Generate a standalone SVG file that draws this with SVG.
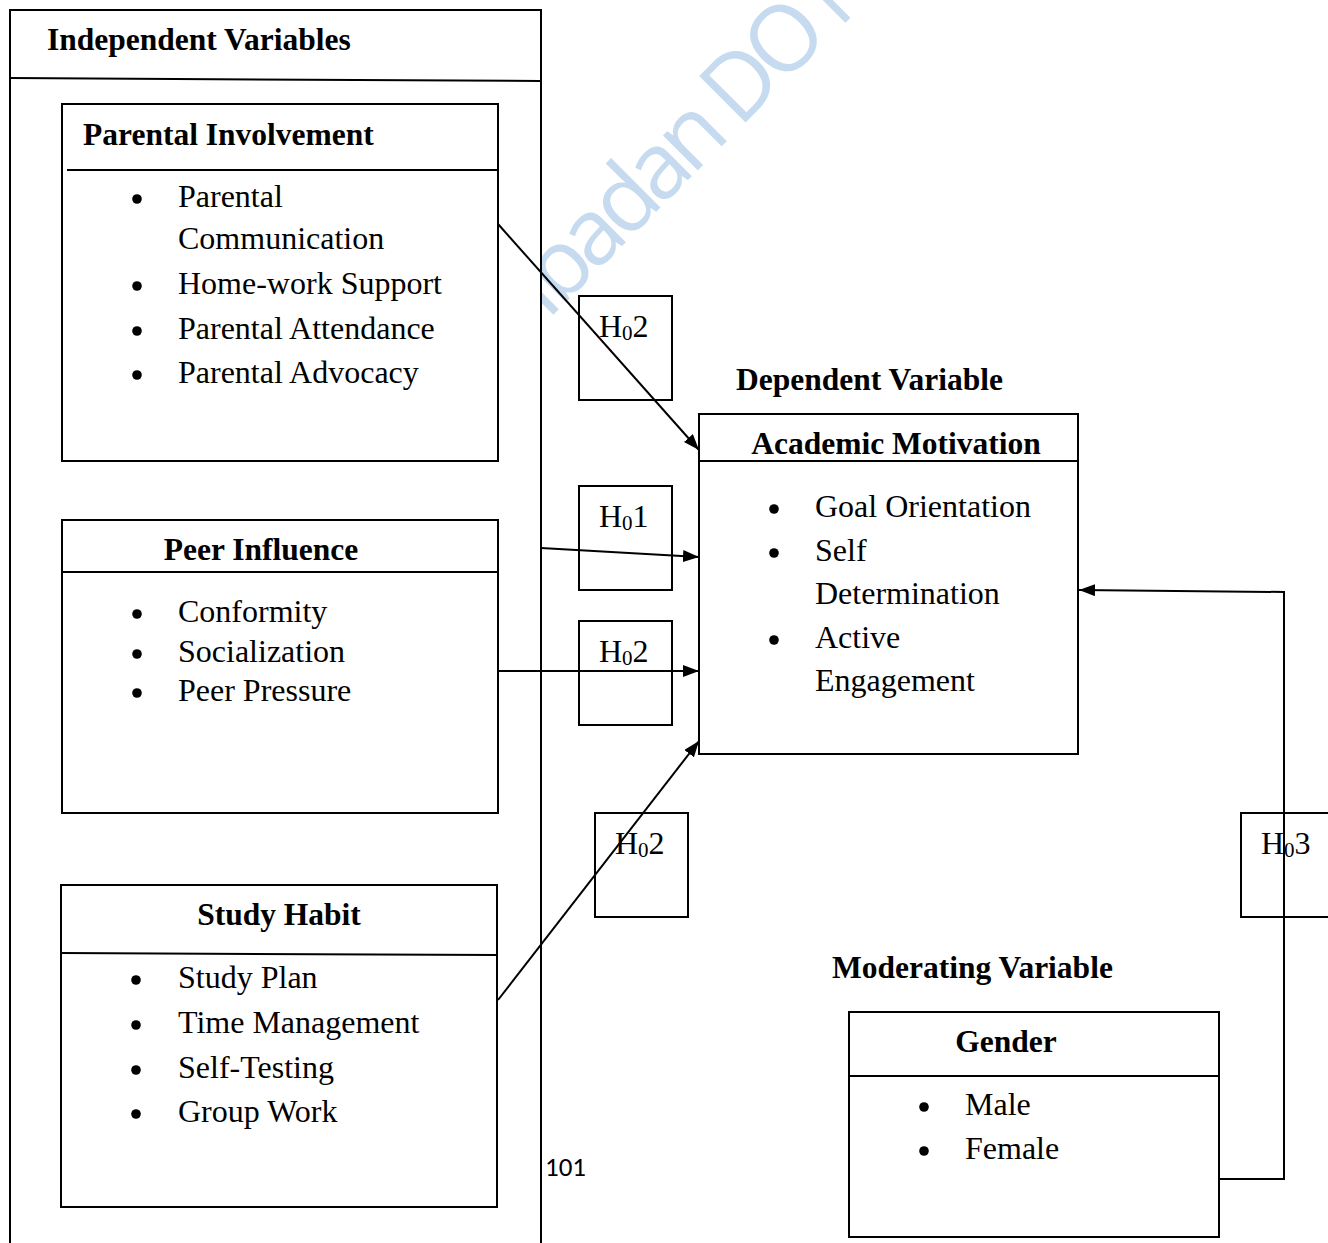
<svg xmlns="http://www.w3.org/2000/svg" width="1328" height="1243" viewBox="0 0 1328 1243">
<defs>
<style>
.box{fill:#fff;stroke:#000;stroke-width:2}
.hbox{fill:none;stroke:#000;stroke-width:2}
.ln{fill:none;stroke:#000;stroke-width:2}
.t{font-family:"Liberation Serif","Times New Roman",serif;font-size:32px;fill:#000}
.b{font-family:"Liberation Serif","Times New Roman",serif;font-size:31.5px;font-weight:bold;fill:#000}
.c{text-anchor:middle}
.sub{font-size:21px}
.dot{fill:#000}
.wm{font-family:"Open Sans","Liberation Sans",sans-serif;font-size:92px;letter-spacing:-7px;fill:#c6dbef}
</style>
<marker id="ah" markerWidth="16" markerHeight="12" refX="16" refY="6" orient="auto" markerUnits="userSpaceOnUse">
<path d="M0,0 L16,6 L0,12 Z" fill="#000"/>
</marker>
</defs>
<rect width="1328" height="1243" fill="#fff"/>
<text class="wm" transform="translate(547,321) rotate(-45)">Ibadan DO N</text>

<g id="independent-variables">
<path class="box" d="M10,1250 L10,10 L541,10 L541,1250"/>
<path class="ln" d="M10,78 L541,81"/>
<text class="b" x="47" y="50">Independent Variables</text>
</g>

<g id="parental-involvement">
<rect class="box" x="62" y="104" width="436" height="357"/>
<line class="ln" x1="67" y1="170" x2="498" y2="170"/>
<text class="b" x="83" y="145">Parental Involvement</text>
<circle class="dot" cx="137" cy="199" r="4.8"/><circle class="dot" cx="137" cy="286" r="4.8"/>
<circle class="dot" cx="137" cy="331" r="4.8"/><circle class="dot" cx="137" cy="375" r="4.8"/>
<g class="t">
<text x="178" y="207">Parental</text>
<text x="178" y="249">Communication</text>
<text x="178" y="294">Home-work Support</text>
<text x="178" y="339">Parental Attendance</text>
<text x="178" y="383">Parental Advocacy</text>
</g>
</g>

<g id="peer-influence">
<rect class="box" x="62" y="520" width="436" height="293"/>
<line class="ln" x1="62" y1="572" x2="498" y2="572"/>
<text class="b c" x="261" y="560">Peer Influence</text>
<circle class="dot" cx="137" cy="614" r="4.8"/><circle class="dot" cx="137" cy="654" r="4.8"/>
<circle class="dot" cx="137" cy="693" r="4.8"/>
<g class="t">
<text x="178" y="622">Conformity</text>
<text x="178" y="662">Socialization</text>
<text x="178" y="701">Peer Pressure</text>
</g>
</g>

<g id="study-habit">
<rect class="box" x="61" y="885" width="436" height="322"/>
<line class="ln" x1="61" y1="953" x2="497" y2="955"/>
<text class="b c" x="279" y="925">Study Habit</text>
<circle class="dot" cx="136" cy="980" r="4.8"/><circle class="dot" cx="136" cy="1025" r="4.8"/>
<circle class="dot" cx="136" cy="1070" r="4.8"/><circle class="dot" cx="136" cy="1114" r="4.8"/>
<g class="t">
<text x="178" y="988">Study Plan</text>
<text x="178" y="1033">Time Management</text>
<text x="178" y="1078">Self-Testing</text>
<text x="178" y="1122">Group Work</text>
</g>
</g>

<text x="545" y="1176" font-family="Carlito,'Liberation Sans',sans-serif" font-size="27">101</text>

<g id="h02-top"><rect class="hbox" x="579" y="296" width="93" height="104"/>
<text class="t" x="599" y="337">H<tspan class="sub" dy="3">0</tspan><tspan dy="-3">2</tspan></text></g>
<g id="h01"><rect class="hbox" x="579" y="486" width="93" height="104"/>
<text class="t" x="599" y="527">H<tspan class="sub" dy="3">0</tspan><tspan dy="-3">1</tspan></text></g>
<g id="h02-mid"><rect class="hbox" x="579" y="621" width="93" height="104"/>
<text class="t" x="599" y="662">H<tspan class="sub" dy="3">0</tspan><tspan dy="-3">2</tspan></text></g>
<g id="h02-bottom"><rect class="hbox" x="595" y="813" width="93" height="104"/>
<text class="t" x="615" y="854">H<tspan class="sub" dy="3">0</tspan><tspan dy="-3">2</tspan></text></g>
<g id="h03"><rect class="hbox" x="1241" y="813" width="100" height="104"/>
<text class="t" x="1261" y="854">H<tspan class="sub" dy="3">0</tspan><tspan dy="-3">3</tspan></text></g>

<text class="b" x="736" y="390">Dependent Variable</text>
<g id="academic-motivation">
<rect class="box" x="699" y="414" width="379" height="340"/>
<line class="ln" x1="699" y1="461" x2="1078" y2="461"/>
<text class="b c" x="896" y="454">Academic Motivation</text>
<circle class="dot" cx="774" cy="509" r="4.8"/><circle class="dot" cx="774" cy="553" r="4.8"/>
<circle class="dot" cx="774" cy="640" r="4.8"/>
<g class="t">
<text x="815" y="517">Goal Orientation</text>
<text x="815" y="561">Self</text>
<text x="815" y="604">Determination</text>
<text x="815" y="648">Active</text>
<text x="815" y="691">Engagement</text>
</g>
</g>

<text class="b" x="832" y="978">Moderating Variable</text>
<g id="gender">
<rect class="box" x="849" y="1012" width="370" height="225"/>
<line class="ln" x1="849" y1="1076" x2="1219" y2="1076"/>
<text class="b c" x="1006" y="1052">Gender</text>
<circle class="dot" cx="924" cy="1107" r="4.8"/><circle class="dot" cx="924" cy="1151" r="4.8"/>
<g class="t">
<text x="965" y="1115">Male</text>
<text x="965" y="1159">Female</text>
</g>
</g>

<g id="connectors">
<line class="ln" x1="498" y1="224" x2="699" y2="450" marker-end="url(#ah)"/>
<line class="ln" x1="541" y1="548" x2="699" y2="557" marker-end="url(#ah)"/>
<line class="ln" x1="498" y1="671" x2="699" y2="671" marker-end="url(#ah)"/>
<line class="ln" x1="498" y1="1000" x2="699" y2="741" marker-end="url(#ah)"/>
<polyline class="ln" points="1219,1179 1284,1179 1284,592 1079,590" marker-end="url(#ah)"/>
</g>
</svg>
